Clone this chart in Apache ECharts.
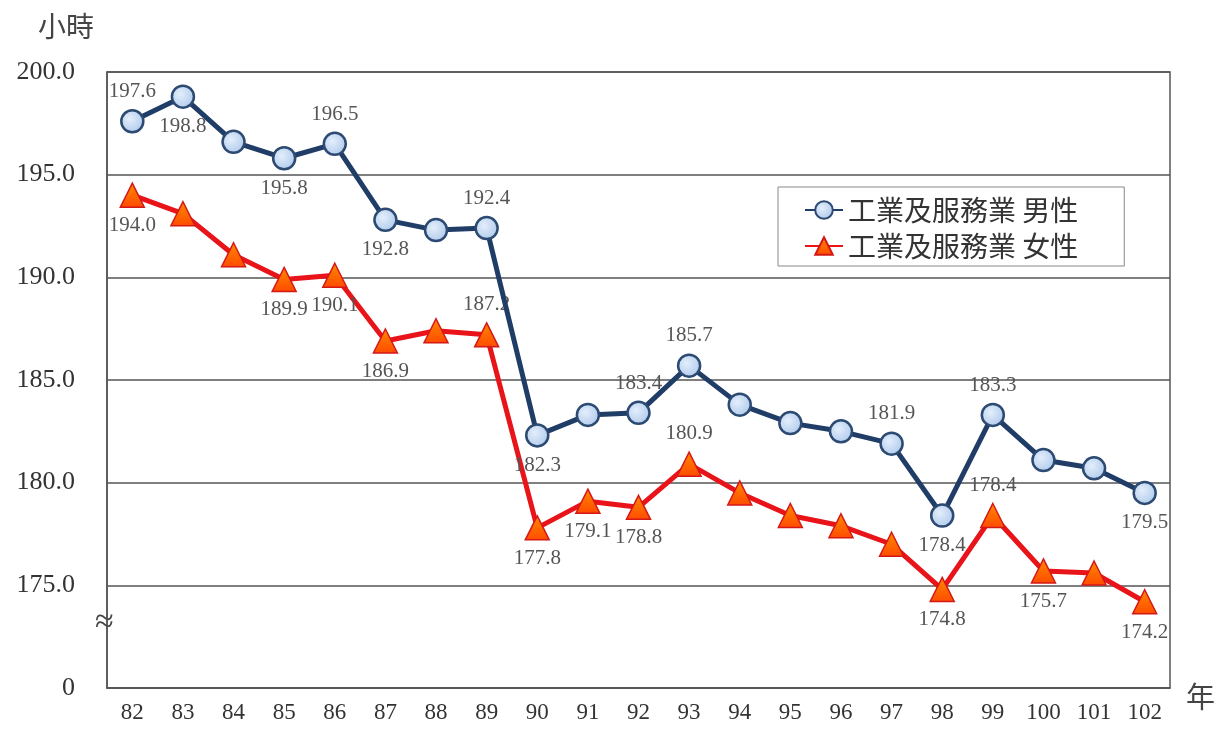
<!DOCTYPE html>
<html>
<head>
<meta charset="utf-8">
<script src="https://cdn.jsdelivr.net/npm/echarts@6/dist/echarts.min.js"></script>
<style>
  html, body { margin: 0; padding: 0; background: #fff; }
  #chart { width: 1219px; height: 731px; }
</style>
</head>
<body>
<div id="chart"></div>
<script>
const years = ['82','83','84','85','86','87','88','89','90','91','92','93','94','95','96','97','98','99','100','101','102']
const maleHours = [197.6,198.8,196.6,195.8,196.5,192.8,192.3,192.4,182.3,183.3,183.4,185.7,183.8,182.9,182.5,181.9,178.4,183.3,181.1,180.7,179.5]
const femaleHours = [194.0,193.1,191.1,189.9,190.1,186.9,187.4,187.2,177.8,179.1,178.8,180.9,179.5,178.4,177.9,177.0,174.8,178.4,175.7,175.6,174.2]
// 標籤位置: 'top' / 'bottom' / null(不顯示)
const maleLabelPos = ['top','bottom',null,'bottom','top','bottom',null,'top','bottom',null,'top','top',null,null,null,'top','bottom','top',null,null,'bottom']
const femaleLabelPos = ['bottom',null,null,'bottom','bottom','bottom',null,'top','bottom','bottom','bottom','top',null,null,null,null,'bottom','top','bottom',null,'bottom']
const yTicks = [170, 175, 180, 185, 190, 195, 200]

const serif = '"Liberation Serif", "DejaVu Serif", serif'
const cjk = '"Noto Sans CJK TC", sans-serif'

const buildData = (values, pos) => values.map((v, i) => ({
  value: v,
  label: pos[i] ? { show: true, position: pos[i] } : { show: false }
}))

const chart = echarts.init(document.getElementById('chart'))

const option = {
  backgroundColor: '#fff',
  animation: false,
  grid: {
    left: 107, right: 49, top: 72, bottom: 43,
    show: true, borderColor: '#555', borderWidth: 1.5
  },
  legend: {
    orient: 'vertical',
    left: 778, top: 187,
    padding: [8, 46, 5, 26],
    itemGap: 6,
    itemWidth: 38, itemHeight: 22,
    borderColor: '#888', borderWidth: 1,
    backgroundColor: '#fff',
    textStyle: { fontFamily: cjk, fontSize: 28, color: '#333', lineHeight: 30 },
    data: ['工業及服務業 男性', '工業及服務業 女性']
  },
  xAxis: {
    type: 'category',
    data: years,
    boundaryGap: true,
    axisLine: { lineStyle: { color: '#555', width: 1.5 } },
    axisTick: { inside: true, length: 6, lineStyle: { color: '#555' } },
    axisLabel: { fontFamily: serif, fontSize: 23, color: '#333', margin: 13 }
  },
  yAxis: {
    type: 'value',
    min: 170, max: 200, interval: 5,
    axisLine: { show: true, lineStyle: { color: '#555', width: 1.5 } },
    axisTick: { show: false },
    splitLine: { lineStyle: { color: '#555', width: 1.5 } },
    axisLabel: {
      fontFamily: serif, fontSize: 26, color: '#333', margin: 32,
      formatter: v => yTicks.indexOf(v) === 0 ? '0' : v.toFixed(1)
    }
  },
  graphic: [
    { type: 'text', left: 38, top: 12, style: { text: '小時', font: '28px ' + cjk, fill: '#444' } },
    { type: 'text', left: 1186, top: 682, style: { text: '年', font: '29px ' + cjk, fill: '#444' } },
    { type: 'text', left: 95, top: 606, style: { text: '≈', font: '34px ' + serif, fill: '#444' } }
  ],
  series: [
    {
      name: '工業及服務業 男性',
      type: 'line',
      data: buildData(maleHours, maleLabelPos),
      symbol: 'circle',
      symbolSize: 22,
      lineStyle: { color: '#1f3d66', width: 5 },
      itemStyle: {
        color: new echarts.graphic.RadialGradient(0.4, 0.4, 0.7, [
          { offset: 0, color: '#e3eefb' },
          { offset: 1, color: '#a9c5ea' }
        ]),
        borderColor: '#2c4a72', borderWidth: 2.5
      },
      label: {
        fontFamily: serif, fontSize: 21, color: '#555', distance: 7,
        formatter: p => p.value.toFixed(1)
      },
      z: 3
    },
    {
      name: '工業及服務業 女性',
      type: 'line',
      data: buildData(femaleHours, femaleLabelPos),
      symbol: 'triangle',
      symbolSize: 24,
      lineStyle: { color: '#e8141a', width: 5 },
      itemStyle: {
        color: new echarts.graphic.LinearGradient(0, 0, 0, 1, [
          { offset: 0, color: '#ff8a00' },
          { offset: 1, color: '#ff4a00' }
        ]),
        borderColor: '#d41818', borderWidth: 1.5
      },
      label: {
        fontFamily: serif, fontSize: 21, color: '#555', distance: 7,
        formatter: p => p.value.toFixed(1)
      },
      z: 2
    }
  ]
}

chart.setOption(option)
</script>
</body>
</html>
